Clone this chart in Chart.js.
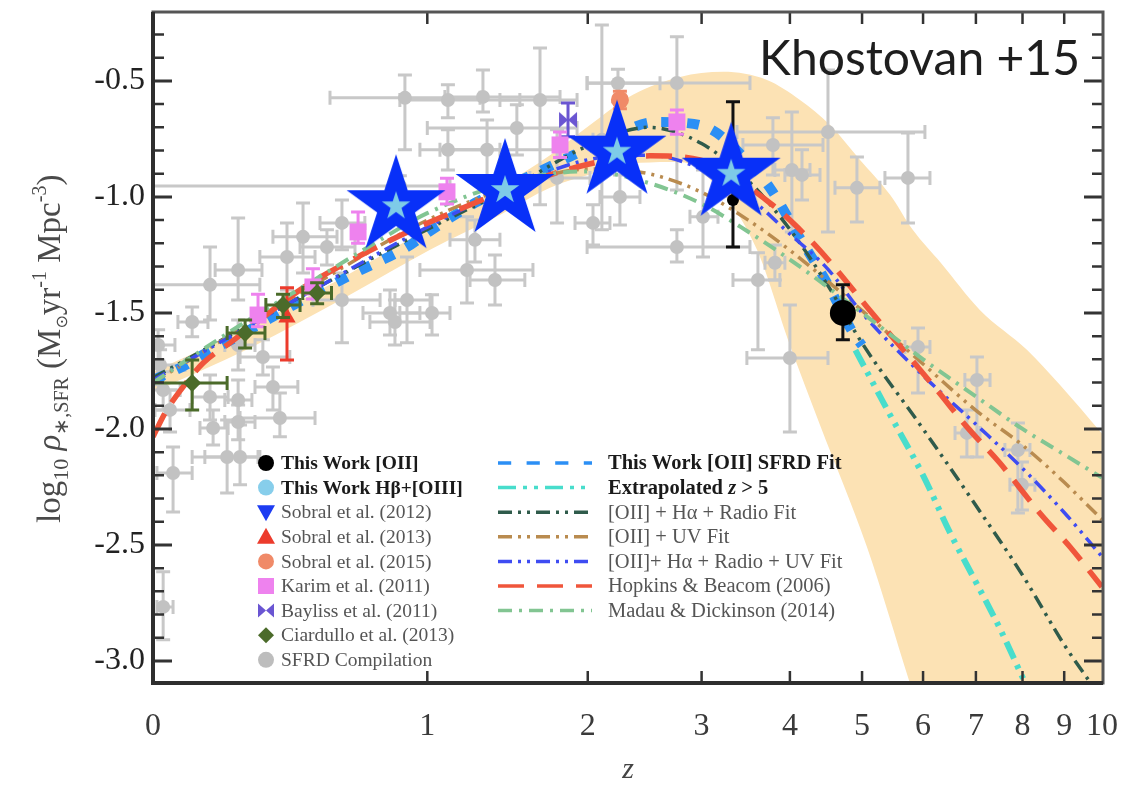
<!DOCTYPE html>
<html>
<head>
<meta charset="utf-8">
<script src="https://cdn.jsdelivr.net/npm/chart.js"></script>
<style>
  html, body { margin: 0; padding: 0; background: #fff; }
  #wrap { width: 1143px; height: 785px; }
</style>
</head>
<body>
<div id="wrap"><canvas id="sfrd" width="1143" height="785"></canvas></div>
<script>
// x axis is log10(1+z); every value below is kept as plain redshift z
const zTicks = [0, 1, 2, 3, 4, 5, 6, 7, 8, 9, 10];
const yTicks = [-3.0, -2.5, -2.0, -1.5, -1.0, -0.5];

// SFRD compilation (grey)
const compZ   = [0.013,0.018,0.026,0.044,0.052,0.026,0.104,0.155,0.155,0.164,0.206,0.246,0.240,0.240,0.240,0.240,0.320,0.354,0.378,0.403,0.461,0.552,0.612,0.612,0.820,0.843,1.024,0.900,0.866,0.890,1.107,1.302,1.659,1.107,1.326,1.508,1.776,1.256,1.211,1.373,2.238,2.109,2.758,2.758,3.014,2.040,2.254,3.790,4.505,4.025,4.155,4.923,5.738,3.612,3.814,4.000,5.911,7.021,6.820,7.896,7.987];
const compZlo = [0,0,0,0.005,0.010,0.010,0.065,0,0.104,0.126,0.104,0.140,0.170,0.199,0.199,0.199,0.246,0.294,0.246,0.310,0.354,0.450,0.525,0.498,0.700,0.730,0.866,0.843,0,0.564,0.866,1.091,1.403,0.963,1.065,1.0,1.592,1.118,0.963,1.228,1.995,2.040,1.995,1.995,2.884,1.905,2.094,3.440,3.374,3.814,3.937,4.603,5.357,3.330,3.695,3.485,5.687,6.780,6.589,7.608,7.718];
const compZhi = [0.057,0.084,0.071,0.098,0.104,0.052,0.149,0.310,0.209,0.209,0.304,0.310,0.317,0.294,0.284,0.294,0.413,0.442,0.506,0.506,0.592,0.666,0.708,0.775,0.963,1.014,1.118,1.014,1.118,1.285,1.527,1.797,1.920,1.403,1.797,1.920,2.017,1.403,1.612,1.559,2.601,2.173,3.520,3.520,3.169,2.173,2.423,4.436,6.033,4.260,4.395,5.277,6.123,3.875,3.937,4.505,6.123,7.291,7.083,8.171,8.286];
const compY   = [-1.638,-1.724,-1.832,-1.918,-2.190,-2.767,-1.539,-1.379,-1.862,-1.996,-2.121,-2.121,-1.315,-1.638,-1.875,-1.970,-1.690,-1.819,-1.953,-1.259,-1.172,-1.216,-1.112,-1.444,-1.500,-1.539,-1.500,-1.444,-0.953,-0.573,-0.582,-0.569,-0.582,-0.797,-0.797,-0.703,-0.918,-1.185,-1.315,-1.358,-0.510,-0.754,-0.509,-1.216,-1.086,-1.112,-1.000,-0.776,-0.720,-0.884,-0.905,-0.961,-0.918,-1.358,-1.284,-1.694,-1.647,-1.789,-2.017,-2.091,-2.241];
const compYlo = [-1.703,-1.810,-1.918,-2.013,-2.358,-2.909,-1.603,-1.530,-1.961,-2.069,-2.276,-2.241,-1.444,-1.746,-1.961,-2.047,-1.767,-1.918,-2.034,-1.401,-1.328,-1.293,-1.228,-1.629,-1.595,-1.638,-1.595,-1.629,-0.996,-0.797,-0.659,-0.634,-1.034,-0.884,-0.927,-0.819,-1.112,-1.280,-1.457,-1.466,-0.590,-1.142,-0.970,-1.280,-1.259,-1.207,-1.121,-0.905,-1.151,-1.151,-1.013,-1.108,-1.112,-1.659,-1.358,-2.013,-1.845,-2.121,-2.121,-2.362,-2.349];
const compYhi = [-1.573,-1.659,-1.754,-1.832,-2.078,-2.616,-1.474,-1.216,-1.767,-1.918,-1.961,-1.983,-1.091,-1.530,-1.789,-1.897,-1.616,-1.733,-1.845,-1.112,-1.026,-1.142,-1.013,-1.328,-1.401,-1.444,-1.422,-1.259,-0.909,-0.474,-0.517,-0.453,-0.358,-0.711,-0.668,-0.603,-0.711,-1.099,-1.086,-1.250,-0.450,-0.259,-0.310,-1.142,-0.884,-1.034,-0.905,-0.659,-0.453,-0.634,-0.797,-0.828,-0.724,-1.241,-1.207,-1.466,-1.565,-1.690,-1.918,-1.974,-2.142];

// literature points
const ciardZ = [0.104, 0.262, 0.389, 0.514];
const ciardZlo = [0, 0.206, 0.33, 0.46];
const ciardZhi = [0.206, 0.327, 0.45, 0.57];
const ciardY = [-1.802, -1.586, -1.466, -1.414];
const ciardYlo = [-1.918, -1.651, -1.52, -1.46];
const ciardYhi = [-1.703, -1.530, -1.42, -1.37];

const karimZ = [0.304, 0.498, 0.679, 1.102, 1.797, 2.758];
const karimY = [-1.509, -1.388, -1.151, -0.978, -0.776, -0.677];
const karimYlo = [-1.56, -1.44, -1.20, -1.03, -0.83, -0.73];
const karimYhi = [-1.42, -1.31, -1.065, -0.92, -0.72, -0.625];

const sob13Z = [0.403], sob13Y = [-1.52], sob13Ylo = [-1.703], sob13Yhi = [-1.392];
const sob15Z = [2.254], sob15Y = [-0.582], sob15Ylo = [-0.62], sob15Yhi = [-0.545];
const baylZ = [1.854], baylY = [-0.668], baylYlo = [-0.741], baylYhi = [-0.595];

// this work
const oiiZ = [3.33, 4.716];
const oiiY = [-1.013, -1.50];
const oiiYlo = [-1.216, -1.616];
const oiiYhi = [-0.59, -1.379];
const starZ = [0.848, 1.434, 2.230, 3.310];
const starY = [-1.04, -0.970, -0.805, -0.90];

// fits
const fitZ = [0, 0.076, 0.149, 0.23, 0.461, 0.675, 0.9, 1.014, 1.256, 1.748, 1.927, 2.2, 2.555, 2.836, 3.106, 3.4, 3.754, 4.104, 4.491, 4.865, 5.0];
const fitY = [-1.789, -1.733, -1.668, -1.608, -1.444, -1.323, -1.216, -1.147, -1.026, -0.862, -0.810, -0.74, -0.677, -0.681, -0.711, -0.81, -0.961, -1.164, -1.371, -1.586, -1.64];
const extZ = [4.9, 5.4, 6, 6.5, 7, 7.5, 8, 8.2];
const extY = [-1.66, -1.92, -2.20, -2.45, -2.66, -2.86, -3.07, -3.15];
const radZ = [0, 0.5, 1, 1.5, 2, 2.5, 3, 3.5, 4, 4.5, 5, 6, 7, 8, 9, 9.8];
const radY = [-1.78, -1.40, -1.14, -0.95, -0.78, -0.70, -0.77, -0.93, -1.14, -1.38, -1.63, -2.00, -2.33, -2.63, -2.93, -3.12];
const uvZ = [0, 0.5, 1, 1.5, 2, 2.5, 3, 3.5, 4, 5, 6, 7, 8, 9, 10];
const uvY = [-1.80, -1.38, -1.10, -0.95, -0.88, -0.90, -0.98, -1.10, -1.23, -1.49, -1.72, -1.92, -2.07, -2.23, -2.39];
const allZ = [0, 0.5, 1, 1.5, 2, 2.5, 3, 3.5, 4, 4.5, 5, 6, 7, 8, 9, 10];
const allY = [-1.79, -1.40, -1.13, -0.95, -0.84, -0.82, -0.88, -1.00, -1.16, -1.31, -1.50, -1.77, -1.98, -2.17, -2.36, -2.55];
const hbZ = [0, 0.031, 0.079, 0.135, 0.215, 0.461, 0.592, 1.014, 1.92, 2.511, 2.984, 3.754, 4.26, 4.63, 5.075, 6.25, 6.82, 7.5, 8.4, 9.15, 10];
const hbY = [-2.034, -1.931, -1.819, -1.716, -1.629, -1.392, -1.306, -1.108, -0.871, -0.823, -0.841, -1.026, -1.185, -1.315, -1.474, -1.832, -1.991, -2.147, -2.362, -2.509, -2.68];
const mdZ = [0, 0.25, 0.5, 0.75, 1, 1.5, 2, 2.5, 3, 3.5, 4, 5, 6, 7, 8, 9, 10];
const mdY = [-1.80, -1.55, -1.36, -1.20, -1.07, -0.93, -0.89, -0.94, -1.03, -1.15, -1.27, -1.50, -1.70, -1.86, -2.00, -2.11, -2.21];

// uncertainty band of the fit
const bandUpZ = [0, 0.278, 0.645, 1.014, 1.403, 1.727, 2.017, 2.363, 2.787, 3.222, 3.718, 4.129, 4.534, 4.97, 5.44, 5.82, 6.32, 7.08, 8.10, 8.89, 10];
const bandUpY = [-1.754, -1.56, -1.33, -1.13, -0.957, -0.82, -0.69, -0.56, -0.483, -0.461, -0.496, -0.582, -0.69, -0.841, -0.991, -1.142, -1.284, -1.487, -1.659, -1.81, -2.02];
const bandLoZ = [0, 0.278, 0.645, 1.014, 1.403, 1.727, 2.094, 2.423, 2.787, 3.19, 3.601, 4.0, 4.395, 5.075, 5.77, 7, 10];
const bandLoY = [-1.841, -1.651, -1.422, -1.228, -1.078, -0.961, -0.892, -0.853, -0.849, -0.970, -1.228, -1.638, -1.983, -2.509, -3.095, -4.0, -5.7];

const legendLeft = [
  ['This Work [OII]', 'circle', '#000000', true],
  ['This Work H\u03b2+[OIII]', 'circle', '#87ceeb', true],
  ['Sobral et al. (2012)', 'triangleDown', '#1d3cf2', false],
  ['Sobral et al. (2013)', 'triangle', '#ec3b2c', false],
  ['Sobral et al. (2015)', 'circle', '#f08a68', false],
  ['Karim et al. (2011)', 'square', '#ee82ee', false],
  ['Bayliss et al. (2011)', 'bowtie', '#6a55d2', false],
  ['Ciardullo et al. (2013)', 'diamond', '#4b6b2a', false],
  ['SFRD Compilation', 'circle', '#bdbdbd', false]
];

const SERIF = '"Liberation Serif", "Times New Roman", serif';
const lz = z => Math.log10(1 + z);
const pts = (zs, ys) => zs.map((z, i) => ({x: lz(z), y: ys[i]}));

function errPts(zs, ys, ylo, yhi, zlo, zhi) {
  return zs.map((z, i) => {
    let p = {x: lz(z), y: ys[i], yMin: ylo[i], yMax: yhi[i]};
    if (zlo) { p.xMin = lz(zlo[i]); p.xMax = lz(zhi[i]); }
    return p;
  });
}

function starCanvas(R, fill, r2, fill2) {
  const c = document.createElement('canvas');
  const s = Math.ceil(R * 2 + 4);
  c.width = s; c.height = s;
  const g = c.getContext('2d');
  const star = r => {
    g.beginPath();
    for (let k = 0; k < 10; k++) {
      const rr = k % 2 ? r * 0.382 : r;
      const a = -Math.PI / 2 + k * Math.PI / 5;
      const px = s / 2 + rr * Math.cos(a), py = s / 2 + rr * Math.sin(a);
      if (k) g.lineTo(px, py); else g.moveTo(px, py);
    }
    g.closePath();
  };
  star(R); g.fillStyle = fill; g.fill();
  star(r2); g.fillStyle = fill2; g.fill();
  return c;
}

function bowtie(size, color) {
  const c = document.createElement('canvas');
  c.width = size * 2 + 2; c.height = size * 2 + 2;
  const g = c.getContext('2d'), m = size + 1;
  g.fillStyle = color;
  g.beginPath();
  g.moveTo(m - size, m - size * 0.9); g.lineTo(m, m); g.lineTo(m - size, m + size * 0.9);
  g.moveTo(m + size, m - size * 0.9); g.lineTo(m, m); g.lineTo(m + size, m + size * 0.9);
  g.fill();
  return c;
}

const curve = (label, zs, ys, color, width, dash) => ({
  label: label, data: pts(zs, ys), borderColor: color, borderWidth: width, borderDash: dash,
  borderCapStyle: 'butt', pointRadius: 0, fill: false, cubicInterpolationMode: 'monotone',
  legendCol: 'right', order: 10
});

const datasets = [
  {label: 'band', data: pts(bandUpZ, bandUpY), fill: '+1', backgroundColor: 'rgb(252,226,180)',
   borderWidth: 0, pointRadius: 0, cubicInterpolationMode: 'monotone', order: 30},
  {label: 'band low', data: pts(bandLoZ, bandLoY), fill: false, borderWidth: 0, pointRadius: 0,
   cubicInterpolationMode: 'monotone', order: 30},
  {label: 'SFRD Compilation', data: errPts(compZ, compY, compYlo, compYhi, compZlo, compZhi), showLine: false,
   pointRadius: 7, pointBackgroundColor: '#c2c2c2', pointBorderWidth: 0, errorBars: true, errColor: '#c8c8c8', order: 20},
  curve('Madau & Dickinson (2014)', mdZ, mdY, '#82c592', 4, [14, 7, 3, 7]),
  curve('Hopkins & Beacom (2006)', hbZ, hbY, '#f0553b', 5.5, [26, 13]),
  curve('[OII]+ H\u03b1 + Radio + UV Fit', allZ, allY, '#3e4cf2', 3.5, [14, 6, 3, 6, 3, 6]),
  curve('[OII] + UV Fit', uvZ, uvY, '#b98b4f', 3.5, [14, 6, 3, 6, 3, 6]),
  curve('[OII] + H\u03b1 + Radio Fit', radZ, radY, '#2f5b4b', 3.5, [14, 6, 3, 6, 3, 6]),
  curve('Extrapolated z > 5', extZ, extY, '#48ddcc', 6, [18, 7, 4, 7, 4, 7]),
  curve('This Work [OII] SFRD Fit', fitZ, fitY, '#2b8ff5', 10, [12, 14]),
  {label: 'Ciardullo', data: errPts(ciardZ, ciardY, ciardYlo, ciardYhi, ciardZlo, ciardZhi), showLine: false,
   pointStyle: 'rectRot', pointRadius: 9, pointBackgroundColor: '#4b6b2a', pointBorderWidth: 0,
   errorBars: true, errColor: '#4b6b2a', order: 5},
  {label: 'Karim', data: errPts(karimZ, karimY, karimYlo, karimYhi), showLine: false, pointStyle: 'rect',
   pointRadius: 12, pointBackgroundColor: '#ee82ee', pointBorderWidth: 0, errorBars: true, errColor: '#ee82ee', order: 5},
  {label: 'Sobral 2013', data: errPts(sob13Z, sob13Y, sob13Ylo, sob13Yhi), showLine: false, pointStyle: 'triangle',
   pointRadius: 10, pointBackgroundColor: '#ec3b2c', pointBorderWidth: 0, errorBars: true, errColor: '#ec3b2c', order: 5},
  {label: 'Sobral 2015', data: errPts(sob15Z, sob15Y, sob15Ylo, sob15Yhi), showLine: false,
   pointRadius: 9, pointBackgroundColor: '#f08a68', pointBorderWidth: 0, errorBars: true, errColor: '#f08a68', order: 5},
  {label: 'Bayliss', data: errPts(baylZ, baylY, baylYlo, baylYhi), showLine: false, pointStyle: bowtie(9, '#6a55d2'),
   pointRadius: 9, errorBars: true, errColor: '#6a55d2', order: 5},
  {label: 'This Work [OII]', data: errPts(oiiZ, oiiY, oiiYlo, oiiYhi), showLine: false,
   pointRadius: [6, 13], pointBackgroundColor: '#000', pointBorderWidth: 0, errorBars: true, errColor: '#111', order: 4},
  {label: 'stars', data: pts(starZ, starY), showLine: false, pointStyle: starCanvas(52, '#0830f8', 15, '#7ecbe8'),
   pointRadius: 40, order: 1}
];

const errorBars = {
  id: 'errorBars',
  beforeDatasetDraw(chart, args) {
    const ds = chart.data.datasets[args.index];
    if (!ds.errorBars) return;
    const {ctx, chartArea: a, scales: {x, y}} = chart;
    const cap = 7;
    ctx.save();
    ctx.beginPath();
    ctx.rect(a.left, a.top, a.width, a.height);
    ctx.clip();
    ctx.strokeStyle = ds.errColor;
    ctx.lineWidth = 3;
    ds.data.forEach(p => {
      const px = x.getPixelForValue(p.x), py = y.getPixelForValue(p.y);
      ctx.beginPath();
      if (p.xMin !== undefined) {
        const x0 = x.getPixelForValue(p.xMin), x1 = x.getPixelForValue(p.xMax);
        ctx.moveTo(x0, py); ctx.lineTo(x1, py);
        ctx.moveTo(x0, py - cap); ctx.lineTo(x0, py + cap);
        ctx.moveTo(x1, py - cap); ctx.lineTo(x1, py + cap);
      }
      const y0 = y.getPixelForValue(p.yMin), y1 = y.getPixelForValue(p.yMax);
      ctx.moveTo(px, y0); ctx.lineTo(px, y1);
      ctx.moveTo(px - cap, y0); ctx.lineTo(px + cap, y0);
      ctx.moveTo(px - cap, y1); ctx.lineTo(px + cap, y1);
      ctx.stroke();
    });
    ctx.restore();
  }
};

function rich(ctx, parts, x, y) {
  let cx = x;
  parts.forEach(([t, f, dy]) => {
    ctx.font = f;
    ctx.fillText(t, cx, y + (dy || 0));
    cx += ctx.measureText(t).width;
  });
}

function marker(ctx, shape, color, x, y) {
  ctx.fillStyle = color;
  ctx.beginPath();
  if (shape === 'circle') ctx.arc(x, y, 8, 0, Math.PI * 2);
  if (shape === 'square') ctx.rect(x - 8, y - 8, 16, 16);
  if (shape === 'triangle') { ctx.moveTo(x, y - 9); ctx.lineTo(x + 9, y + 7); ctx.lineTo(x - 9, y + 7); }
  if (shape === 'triangleDown') { ctx.moveTo(x, y + 9); ctx.lineTo(x + 9, y - 7); ctx.lineTo(x - 9, y - 7); }
  if (shape === 'diamond') { ctx.moveTo(x, y - 8); ctx.lineTo(x + 8, y); ctx.lineTo(x, y + 8); ctx.lineTo(x - 8, y); }
  if (shape === 'bowtie') {
    ctx.moveTo(x - 8, y - 7); ctx.lineTo(x, y); ctx.lineTo(x - 8, y + 7);
    ctx.moveTo(x + 8, y - 7); ctx.lineTo(x, y); ctx.lineTo(x + 8, y + 7);
  }
  ctx.fill();
}

const decorations = {
  id: 'decorations',
  afterDatasetsDraw(chart) {
    const {ctx, chartArea: a, scales: {x, y}} = chart;
    ctx.save();

    // inward ticks on all four sides
    ctx.strokeStyle = '#333';
    for (let i = -30; i <= -3; i++) {
      const py = y.getPixelForValue(i / 10);
      const major = i % 5 === 0;
      const len = major ? 19 : 11;
      ctx.lineWidth = major ? 3 : 2.5;
      ctx.beginPath();
      ctx.moveTo(a.left, py); ctx.lineTo(a.left + len, py);
      ctx.moveTo(a.right, py); ctx.lineTo(a.right - len, py);
      ctx.stroke();
    }
    ctx.lineWidth = 2.5;
    zTicks.slice(1, -1).forEach(z => {
      const px = x.getPixelForValue(lz(z));
      ctx.beginPath();
      ctx.moveTo(px, a.bottom); ctx.lineTo(px, a.bottom - 12);
      ctx.moveTo(px, a.top); ctx.lineTo(px, a.top + 12);
      ctx.stroke();
    });

    // frame
    ctx.strokeStyle = '#555';
    ctx.lineWidth = 3;
    ctx.strokeRect(a.left, a.top, a.right - a.left, a.bottom - a.top);
    ctx.strokeStyle = '#2e2e2e';
    ctx.lineWidth = 4;
    ctx.beginPath();
    ctx.moveTo(a.left, a.top); ctx.lineTo(a.left, a.bottom); ctx.lineTo(a.right, a.bottom);
    ctx.stroke();

    // legend, left column
    const row0 = 463, step = 24.6;
    ctx.textBaseline = 'middle';
    ctx.textAlign = 'left';
    legendLeft.forEach(([text, shape, color, bold], i) => {
      const ry = row0 + i * step;
      marker(ctx, shape, color, 266, ry);
      ctx.fillStyle = bold ? '#1a1a1a' : '#555';
      ctx.font = (bold ? 'bold ' : '') + '19.5px ' + SERIF;
      ctx.fillText(text, 281, ry + 1);
    });

    // legend, right column from the curve datasets
    const lines = chart.data.datasets.filter(d => d.legendCol === 'right').reverse();
    lines.forEach((d, i) => {
      const ry = row0 + i * step;
      ctx.strokeStyle = d.borderColor;
      ctx.lineWidth = 3.5;
      ctx.setLineDash(d.borderDash.map(v => v * (d.borderWidth > 6 ? 1.1 : 1)));
      ctx.beginPath();
      ctx.moveTo(498, ry); ctx.lineTo(592, ry);
      ctx.stroke();
      ctx.setLineDash([]);
      const bold = i < 2;
      ctx.fillStyle = bold ? '#1a1a1a' : '#555';
      const f = (bold ? 'bold ' : '') + '20.5px ' + SERIF;
      if (d.label === 'Extrapolated z > 5') {
        rich(ctx, [['Extrapolated ', f], ['z', 'italic ' + f], [' > 5', f]], 608, ry + 1);
      } else {
        ctx.font = f;
        ctx.fillText(d.label, 608, ry + 1);
      }
    });

    // y axis title with sub- and superscripts
    ctx.fillStyle = '#4a4a4a';
    ctx.textBaseline = 'alphabetic';
    ctx.translate(60, 523);
    ctx.rotate(-Math.PI / 2);
    rich(ctx, [
      ['log', '33px ' + SERIF], ['10', '22px ' + SERIF, 8], [' ', '33px ' + SERIF],
      ['\u03c1', 'italic 33px ' + SERIF], ['\u2217,SFR', '20px ' + SERIF, 8], [' (M', '33px ' + SERIF],
      ['\u2299', '16px "DejaVu Sans"', 7], ['yr', '33px ' + SERIF], ['-1', '20px ' + SERIF, -14],
      [' Mpc', '33px ' + SERIF], ['-3', '20px ' + SERIF, -14], [')', '33px ' + SERIF]
    ], 0, 0);
    ctx.setTransform(1, 0, 0, 1, 0, 0);

    // x axis title
    ctx.fillStyle = '#444';
    ctx.textAlign = 'center';
    ctx.textBaseline = 'middle';
    ctx.font = 'italic 30px ' + SERIF;
    ctx.fillText('z', 628, 770);

    // annotation
    ctx.fillStyle = '#1e1e1e';
    ctx.textAlign = 'right';
    ctx.textBaseline = 'alphabetic';
    ctx.font = '48px Lato';
    ctx.fillText('Khostovan +15', 1080, 75);
    ctx.restore();
  }
};

new Chart(document.getElementById('sfrd'), {
  type: 'line',
  data: {datasets: datasets},
  options: {
    responsive: false,
    animation: false,
    layout: {autoPadding: false, padding: {left: 0, top: 12, right: 40, bottom: 0}},
    plugins: {legend: {display: false}, tooltip: {enabled: false}},
    scales: {
      x: {
        type: 'linear', min: 0, max: lz(10.03),
        afterBuildTicks: s => { s.ticks = zTicks.map(z => ({value: lz(z)})); },
        afterFit: s => { s.height = 102; s.paddingLeft = 0; s.paddingRight = 0; },
        grid: {display: false, drawTicks: false}, border: {display: false},
        ticks: {padding: 24, color: '#3a3a3a', font: {family: SERIF, size: 32}, maxRotation: 0, autoSkip: false,
                callback: (v, i) => zTicks[i]}
      },
      y: {
        type: 'linear', min: -3.095, max: -0.203,
        afterBuildTicks: s => { s.ticks = yTicks.map(v => ({value: v})); },
        afterFit: s => { s.width = 153; s.paddingTop = 0; s.paddingBottom = 0; },
        grid: {display: false, drawTicks: false}, border: {display: false},
        ticks: {padding: 8, color: '#222', font: {family: SERIF, size: 32}, callback: v => v.toFixed(1)}
      }
    }
  },
  plugins: [errorBars, decorations]
});
</script>
</body>
</html>
